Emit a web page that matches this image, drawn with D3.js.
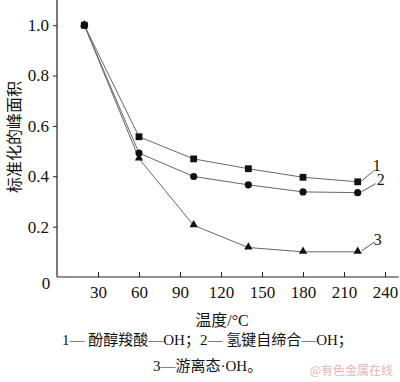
<!DOCTYPE html>
<html><head><meta charset="utf-8">
<script src="https://cdn.jsdelivr.net/npm/d3@7"></script>
<style>
html,body{margin:0;padding:0;background:#fff;}
svg{display:block;}
</style></head>
<body>
<script>
const temps = [20, 60, 100, 140, 180, 220];
const series1 = [1.0, 0.557, 0.469, 0.430, 0.396, 0.378];
const series2 = [1.0, 0.492, 0.399, 0.366, 0.338, 0.335];
const series3 = [1.0, 0.470, 0.205, 0.117, 0.100, 0.100];
const seriesLabels = ["1", "2", "3"];
const xTicks = [30, 60, 90, 120, 150, 180, 210, 240];
const yTicks = [0.2, 0.4, 0.6, 0.8, 1.0];
const xTitle = "温度/°C";
const yTitle = "标准化的峰面积";
const caption1 = "1— 酚醇羧酸—OH；2— 氢键自缔合—OH；";
const caption2 = "3—游离态·OH。";
const watermark = "@有色金属在线";

const W = 400, H = 382;
const svg = d3.select("body").append("svg").attr("width", W).attr("height", H);
const x = d3.scaleLinear().domain([0, 250]).range([57, 398.7]);
const y = d3.scaleLinear().domain([0, 1.1]).range([277, 0]);
const serif = "'Liberation Serif','Times New Roman',serif";
const cjk = "'Liberation Serif','Noto Sans CJK SC',serif";

// axes
const xAxis = d3.axisBottom(x).tickValues(xTicks).tickSize(-5).tickPadding(9).tickFormat(d3.format("d"));
const gx = svg.append("g").attr("transform", `translate(0,${y(0)})`).call(xAxis);
gx.select(".domain").attr("stroke", "#222").attr("stroke-width", 1.2).attr("d", `M${x(0)},0H${x(250)}`);
gx.selectAll(".tick line").attr("stroke", "#222").attr("stroke-width", 1);
gx.selectAll(".tick text").attr("font-family", serif).attr("font-size", 17).attr("fill", "#111");

const yAxis = d3.axisLeft(y).tickValues(yTicks).tickSize(4).tickPadding(4).tickFormat(d3.format(".1f"));
const gy = svg.append("g").attr("transform", `translate(${x(0)},0)`).call(yAxis);
gy.select(".domain").attr("stroke", "#222").attr("stroke-width", 1.2).attr("d", `M0,${y(0)}V${y(1.1)}`);
gy.selectAll(".tick line").attr("stroke", "#222").attr("stroke-width", 1);
gy.selectAll(".tick text").attr("font-family", serif).attr("font-size", 17).attr("fill", "#111");

svg.append("text").attr("x", 46).attr("y", 289).attr("text-anchor", "middle")
  .attr("font-family", serif).attr("font-size", 17).attr("fill", "#111").text("0");

const allSeries = [series1, series2, series3];
const line = d3.line().x((d, i) => x(temps[i])).y(d => y(d));
allSeries.forEach(s => {
  svg.append("path").attr("d", line(s)).attr("fill", "none").attr("stroke", "#666").attr("stroke-width", 1);
});

// markers
svg.append("g").selectAll("rect").data(series1).join("rect")
  .attr("x", (d, i) => x(temps[i]) - 3.4).attr("y", d => y(d) - 3.4)
  .attr("width", 6.8).attr("height", 6.8).attr("fill", "#111");
svg.append("g").selectAll("circle").data(series2).join("circle")
  .attr("cx", (d, i) => x(temps[i])).attr("cy", d => y(d)).attr("r", 3.6).attr("fill", "#111");
const tri = d3.symbol().type(d3.symbolTriangle).size(30);
svg.append("g").selectAll("path").data(series3).join("path")
  .attr("d", tri).attr("transform", (d, i) => `translate(${x(temps[i])},${y(d) - 0.5})`).attr("fill", "#111");

// series labels with leader lines
const last = temps.length - 1;
const labelOff = [[12, -10, 15, -15], [14, -8, 19, -12], [13, -9, 16, -11]];
allSeries.forEach((s, k) => {
  const px = x(temps[last]) + 4, py = y(s[last]) - 1;
  const o = labelOff[k];
  svg.append("line").attr("x1", px).attr("y1", py).attr("x2", px + o[0]).attr("y2", py + o[1])
    .attr("stroke", "#444").attr("stroke-width", 0.9);
  svg.append("text").attr("x", px + o[2]).attr("y", py + o[3] + 5).attr("text-anchor", "middle")
    .attr("font-family", serif).attr("font-size", 16).attr("fill", "#111").text(seriesLabels[k]);
});

// titles
svg.append("text").attr("x", 222).attr("y", 326).attr("text-anchor", "middle")
  .attr("font-family", cjk).attr("font-size", 16).attr("fill", "#111").text(xTitle);
svg.append("text").attr("transform", "translate(20,137) rotate(-90)").attr("text-anchor", "middle")
  .attr("font-family", cjk).attr("font-size", 16).attr("fill", "#111").text(yTitle);

svg.append("text").attr("x", 62).attr("y", 345).attr("text-anchor", "start")
  .attr("font-family", cjk).attr("font-size", 15).attr("fill", "#111").text(caption1);
svg.append("text").attr("x", 153).attr("y", 371).attr("text-anchor", "start")
  .attr("font-family", cjk).attr("font-size", 15).attr("fill", "#111").text(caption2);

svg.append("text").attr("x", 393).attr("y", 375).attr("text-anchor", "end")
  .attr("font-family", "'Noto Sans CJK SC',sans-serif").attr("font-size", 12).attr("fill", "#eab4b4").text(watermark);
</script>
</body></html>
